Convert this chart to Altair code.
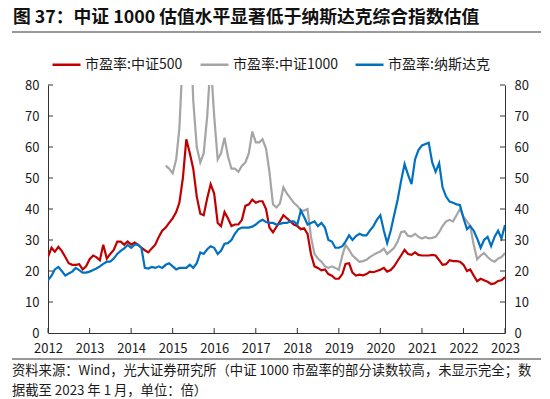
import altair as alt
import pandas as pd
import numpy as np

series_names = ["市盈率:中证500", "市盈率:中证1000", "市盈率:纳斯达克"]
series_colors = ["#C00000", "#A5A5A5", "#0070C0"]

dates = pd.date_range("2012-01-01", periods=133, freq="MS")

pe_csi500 = [
    24.6, 27.5, 26.2, 27.8, 26.5, 24.5, 22.5, 22, 22, 22.2, 20.5, 21.5,
    23.8, 25, 24.5, 23.5, 28.5, 24, 25.5, 26.8, 29.5, 29.5, 28.5, 29.5,
    28.5, 29.2, 28.5, 27.5, 26.7, 26, 27.3, 28.5, 31, 33, 34, 35.5,
    37, 39, 42, 50, 62.5, 58, 53, 44, 38.5, 38, 43.5, 48,
    45, 35.5, 34.5, 39, 37, 34.5, 35, 35, 36.5, 41, 41.5, 43,
    42, 42.5, 42.5, 40, 34, 32.5, 34.2, 36, 38, 37, 36, 35,
    34.5, 33.5, 33.8, 32, 25.5, 21.5, 21, 20.2, 20.5, 19, 18.5, 17.5,
    17.5, 19, 22.3, 22.5, 19.5, 18.5, 18.8, 18.6, 19, 19.8, 19.6, 20,
    20.4, 21, 19.8, 20.3, 21.5, 23.3, 25, 26.8, 25.5, 25.2, 26, 25.2,
    25, 25, 25, 25.2, 25, 23.5, 22, 22.2, 23.5, 23.2, 23.2, 23,
    22, 20, 20.5, 18.5, 16.7, 17.5, 17, 16.5, 15.8, 16, 16.8, 17,
    18,
]

pe_csi1000 = [np.nan] * 34 + [
    54, 53,
    51.5, 56, 66, 90, 120, 105, 75, 60, 55, 58, 70, 88,
    70, 56, 58, 63, 57, 53, 53, 52, 54, 55, 58, 65,
    61.5, 61.5, 62.5, 59.5, 52, 41.5, 40.5, 41.8, 47, 45, 43.5, 42,
    41, 39.5, 39.5, 40, 31, 25.5, 24, 23, 21.5, 21, 21.5, 21,
    20.4, 25, 28.4, 26.8, 25, 24, 23, 23.2, 23.6, 24.5, 25.2, 25.8,
    26.3, 27.2, 25.5, 26.5, 27.5, 29.5, 32.5, 32.8, 31.3, 31.2, 32, 31,
    30.5, 31, 30.5, 30.7, 31, 32.5, 34.5, 36, 36.5, 36, 38, 40,
    37.5, 36, 34.5, 28.5, 23.8, 25, 25.8, 24.5, 23.5, 23, 24, 24.5,
    25.8,
]

pe_nasdaq = [
    17, 18.5, 20.5, 21.3, 20, 18.5, 19.2, 19.8, 21, 20.3, 19.5, 19.5,
    19.8, 20.3, 20.8, 21.5, 22.3, 23, 23, 24, 25.5, 26.5, 27.3, 28.4,
    27.5, 28.5, 28.5, 27.5, 21, 20.8, 21.3, 21, 21.5, 21, 22, 22.5,
    21.5, 20.5, 21, 21, 21, 22, 21, 22.5, 26, 25.5, 27, 28,
    27.5, 25.5, 26.5, 28.8, 29, 30, 32, 33.5, 34, 34, 34, 34.3,
    35, 36, 36.5, 35.8, 35.5, 35.5, 35, 35.2, 35.5, 35.5, 36, 36,
    35, 39.5, 37.5, 35, 35.5, 36, 34.5, 35.5, 34, 30, 29.5, 27.5,
    27.5, 28, 29.5, 31.5, 30, 31.3, 32, 31.5, 31.5, 33, 34.5, 36.5,
    38, 33, 29, 33, 38, 43, 49, 54.5, 51, 48, 56, 59,
    60.5, 61, 61.4, 55, 52, 54.8, 47, 44, 42.4, 42, 41.5, 41.3,
    37, 33.5, 34.5, 33, 30.5, 27.5, 30, 31, 28, 31, 33, 30.5,
    34.8,
]

year_ticks = list(range(2012, 2024))
y_ticks = [0, 10, 20, 30, 40, 50, 60, 70, 80]

rows = []
for name, vals in zip(series_names, [pe_csi500, pe_csi1000, pe_nasdaq]):
    for d, v in zip(dates, vals):
        if not (isinstance(v, float) and np.isnan(v)):
            rows.append({"date": d, "series": name, "value": v})
df = pd.DataFrame(rows)

W, H = 457, 248
FONT = "Noto Sans CJK SC"
TXT = "#1a1a1a"

xscale = alt.Scale(domain=[pd.Timestamp("2012-01-01").isoformat(), pd.Timestamp("2023-01-01").isoformat()])
yscale = alt.Scale(domain=[0, 80], nice=False)

xaxis = alt.Axis(
    values=[pd.Timestamp(f"{y}-01-01").isoformat() for y in year_ticks],
    format="%Y", labelFont=FONT, labelFontSize=13, labelColor=TXT,
    ticks=False, grid=False, domainColor="#333333", domainWidth=1,
    labelPadding=9, title=None, labelFlush=False,
)


def yaxis(orient):
    return alt.Axis(orient=orient, values=y_ticks, labelFont=FONT, labelFontSize=13, labelColor=TXT,
                    ticks=False, grid=False, domainColor="#333333", labelPadding=9, title=None)


lines = alt.Chart(df).mark_line(strokeWidth=2.2, clip=True).encode(
    x=alt.X("date:T", scale=xscale, axis=xaxis),
    y=alt.Y("value:Q", scale=yscale, axis=yaxis("left")),
    color=alt.Color("series:N", scale=alt.Scale(domain=series_names, range=series_colors),
                    legend=alt.Legend(orient="none", legendX=3, legendY=-36, direction="horizontal",
                                      title=None, labelFont=FONT, labelFontSize=14, labelColor=TXT,
                                      symbolType="stroke", symbolSize=784, symbolStrokeWidth=2.5,
                                      columnPadding=12, labelOffset=3)),
)

xt = pd.DataFrame({"date": [pd.Timestamp(f"{y}-01-01") for y in year_ticks]})
xticks = alt.Chart(xt).mark_rule(color="#333333", strokeWidth=1).encode(
    x=alt.X("date:T", scale=xscale, axis=xaxis), y=alt.value(H), y2=alt.value(H - 5))

yt = pd.DataFrame({"value": y_ticks[1:]})
yticks_left = alt.Chart(yt).mark_rule(color="#333333", strokeWidth=1).encode(
    y=alt.Y("value:Q", scale=yscale, axis=yaxis("left")), x=alt.value(0), x2=alt.value(5))

left = alt.layer(lines, xticks, yticks_left)

right = alt.Chart(yt).mark_rule(color="#333333", strokeWidth=1).encode(
    y=alt.Y("value:Q", scale=yscale, axis=yaxis("right")),
    x=alt.value(W - 5), x2=alt.value(W))

one = pd.DataFrame({"a": [0]})
title = alt.Chart(one).mark_text(align="left", baseline="alphabetic", font=FONT, fontSize=17.8,
                                 fontWeight="bold", color="#111111").encode(
    x=alt.value(-35), y=alt.value(-62), text=alt.value("图 37：中证 1000 估值水平显著低于纳斯达克综合指数估值"))
rule_top = alt.Chart(one).mark_rule(color="#333333", strokeWidth=1).encode(
    x=alt.value(-36), x2=alt.value(493), y=alt.value(-53))
rule_bot = alt.Chart(one).mark_rule(color="#333333", strokeWidth=1).encode(
    x=alt.value(-36), x2=alt.value(493), y=alt.value(274))
foot1 = alt.Chart(one).mark_text(align="left", baseline="alphabetic", font=FONT, fontSize=13.3,
                                 color=TXT).encode(
    x=alt.value(-36), y=alt.value(290),
    text=alt.value("资料来源：Wind，光大证券研究所（中证 1000 市盈率的部分读数较高，未显示完全；数"))
foot2 = alt.Chart(one).mark_text(align="left", baseline="alphabetic", font=FONT, fontSize=13.3,
                                 color=TXT).encode(
    x=alt.value(-36), y=alt.value(310),
    text=alt.value("据截至 2023 年 1 月，单位：倍）"))

chart = alt.layer(left, right, title, rule_top, rule_bot, foot1, foot2).resolve_scale(
    y="independent"
).properties(
    width=W, height=H,
    autosize=alt.AutoSizeParams(type="none"),
    padding={"left": 40, "top": 77, "right": 37, "bottom": 66},
).configure_view(stroke=None)

chart.save("out.html", embed_options={"renderer": "svg", "actions": False})
